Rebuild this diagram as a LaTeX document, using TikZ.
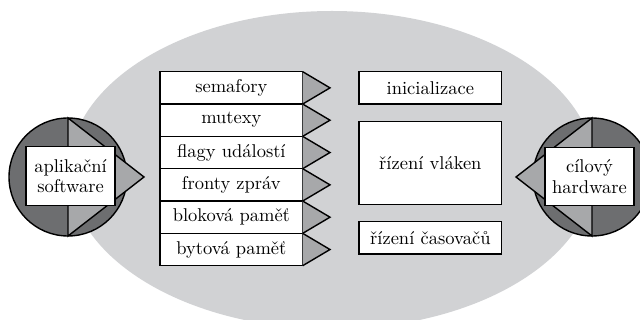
\documentclass[tikz,border=0pt]{standalone}
\usepackage{fontspec}
\setmainfont{lmroman10-regular.otf}
\usetikzlibrary{calc}
\definecolor{ovalgray}{RGB}{209,210,212}
\definecolor{midgray}{RGB}{167,168,170}
\definecolor{deepgray}{RGB}{109,110,112}
\begin{document}
\begin{tikzpicture}[x=1pt,y=-1pt,line width=1.4pt,
  txt/.style={draw=black,fill=white,inner sep=0pt,outer sep=0pt,
    font=\fontsize{18.5}{20.5}\selectfont,align=center},
  listbox/.style={txt,minimum width=142.7pt,minimum height=32.33pt},
  sidebox/.style={txt,minimum width=89pt,minimum height=58.5pt},
  wedge/.style={draw=black,fill=midgray,line join=miter},
  disc/.style={draw=black,fill=deepgray}]
\clip (0,0) rectangle (640,320);
% background oval
\fill[ovalgray] (332,170) ellipse [x radius=263, y radius=159];

% application side: disc with a wedge pointing right
\coordinate (lc) at (68,177);
\draw[disc] (lc) circle [radius=59];
\coordinate (ltop) at (68,118);
\coordinate (lbot) at (68,236);
\coordinate (ltip) at (144,177);
\draw[wedge] (ltop) -- (ltip) -- (lbot) -- cycle;
\node[sidebox] (app) at (70.5,176) {aplikační\\software};

% hardware side: disc with a wedge pointing left
\coordinate (rc) at (592,177);
\draw[disc] (rc) circle [radius=59];
\coordinate (rtop) at (592,118);
\coordinate (rbot) at (592,236);
\coordinate (rtip) at (516,177);
\draw[wedge] (rtop) -- (rtip) -- (rbot) -- cycle;
\node[sidebox] (hw) at (589.5,176.5) {cílový\\hardware};

% services column
\foreach \t [count=\i] in {semafory,mutexy,flagy událostí,fronty zpráv,bloková paměť,bytová paměť}{
  \node[listbox] (s\i) at (231.35,{87.87+32.33*(\i-1)}) {\t};
  \draw[wedge] (s\i.north east) -- ($(s\i.east)+(27.3,0)$) -- (s\i.south east);
}

% kernel column
\node[listbox] (init) at (430.35,87.87) {inicializace};
\node[listbox,minimum height=82.6pt] (thr) at (430.35,163) {řízení vláken};
\node[listbox] (tmr) at (430.35,237.87) {řízení časovačů};
\end{tikzpicture}
\end{document}
